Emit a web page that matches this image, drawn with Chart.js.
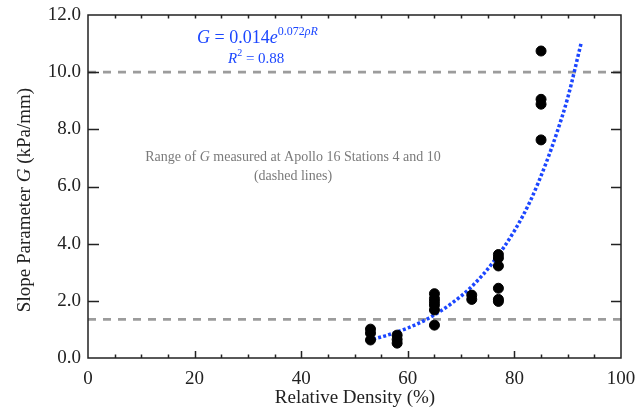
<!DOCTYPE html>
<html>
<head>
<meta charset="utf-8">
<script src="https://cdn.jsdelivr.net/npm/chart.js@4/dist/chart.umd.min.js"></script>
<style>
  html, body { margin: 0; padding: 0; background: #fff; }
  #wrap { width: 637px; height: 407px; }
</style>
</head>
<body>
<div id="wrap"><canvas id="slope_chart" width="637" height="407"></canvas></div>
<script>
// measured points (relative density %, slope parameter G kPa/mm)
var densityPts = [53, 53, 53, 58, 58, 58, 65, 65, 65, 65, 65, 65, 72, 72, 77, 77, 77, 77, 77, 77, 85, 85, 85, 85];
var slopePts = [1.01, 0.87, 0.63, 0.80, 0.65, 0.52, 2.25, 2.08, 1.97, 1.85, 1.68, 1.15, 2.20, 2.05, 3.62, 3.50, 3.22, 2.44, 2.05, 1.98, 10.74, 9.05, 8.88, 7.63];
// exponential fit curve
var fitDensity = [53.5, 56, 60, 64, 68, 72, 76, 80, 83, 86, 88, 90, 92.5];
var fitSlope = [0.66, 0.79, 1.05, 1.40, 1.88, 2.50, 3.35, 4.45, 5.50, 6.85, 7.90, 9.10, 11.00];
// Apollo 16 range (dashed lines)
var rangeLevels = [1.35, 10.0];
var xRange = [0, 100];
var yRange = [0, 12];

var serif = "'Liberation Serif', 'Times New Roman', serif";
var ctx = 'slope_chart';

function pairs(xs, ys) {
    var out = [];
    for (var i = 0; i < xs.length; i++) {
        out.push({x: xs[i], y: ys[i]});
    }
    return out;
}

var datasets = [];
for (var i = 0; i < rangeLevels.length; i++) {
    datasets.push({
        data: [{x: xRange[0], y: rangeLevels[i]}, {x: xRange[1], y: rangeLevels[i]}],
        showLine: true,
        borderColor: '#9c9c9c',
        borderWidth: 2.6,
        borderDash: [8, 7],
        pointRadius: 0,
        order: 3
    });
}
datasets.push({
    data: pairs(fitDensity, fitSlope),
    showLine: true,
    borderColor: '#1b46ff',
    borderWidth: 3.5,
    borderDash: [3, 2.2],
    cubicInterpolationMode: 'monotone',
    pointRadius: 0,
    order: 2
});
datasets.push({
    data: pairs(densityPts, slopePts),
    backgroundColor: '#000',
    borderColor: '#000',
    pointRadius: 5,
    order: 1
});

// inner tick marks, frame, labels and titles
var decorations = {
    id: 'decorations',
    afterDraw: function (chart) {
        var c = chart.ctx;
        var a = chart.chartArea;
        var xs = chart.scales.x;
        var ys = chart.scales.y;
        c.save();
        c.strokeStyle = '#222';
        c.lineWidth = 1.5;
        c.strokeRect(a.left, a.top, a.right - a.left, a.bottom - a.top);
        c.beginPath();
        for (var v = 5; v < 100; v += 5) {
            var px = Math.round(xs.getPixelForValue(v)) + 0.5;
            var len = (v % 20 === 0) ? 7 : 3.5;
            c.moveTo(px, a.bottom);
            c.lineTo(px, a.bottom - len);
            c.moveTo(px, a.top);
            c.lineTo(px, a.top + 3.5);
        }
        for (var g = 2; g < 12; g += 2) {
            var py = Math.round(ys.getPixelForValue(g)) + 0.5;
            c.moveTo(a.left, py);
            c.lineTo(a.left + 11, py);
            c.moveTo(a.right, py);
            c.lineTo(a.right - 10, py);
        }
        c.stroke();

        // equation
        c.fillStyle = '#1b46ff';
        c.textBaseline = 'alphabetic';
        c.textAlign = 'left';
        var x0 = 197, y0 = 43;
        var parts = [
            ['italic 18px ' + serif, 'G', 0],
            ['18px ' + serif, ' = 0.014', 0],
            ['italic 18px ' + serif, 'e', 0],
            ['12px ' + serif, '0.072', -8],
            ['italic 12px ' + serif, '\u03c1R', -8]
        ];
        parts.forEach(function (p) {
            c.font = p[0];
            c.fillText(p[1], x0, y0 + p[2]);
            x0 += c.measureText(p[1]).width;
        });
        x0 = 228; y0 = 63;
        parts = [
            ['italic 15px ' + serif, 'R', 0],
            ['10px ' + serif, '2', -7],
            ['15px ' + serif, ' = 0.88', 0]
        ];
        parts.forEach(function (p) {
            c.font = p[0];
            c.fillText(p[1], x0, y0 + p[2]);
            x0 += c.measureText(p[1]).width;
        });

        // range note
        c.fillStyle = '#7a7a7a';
        var note = [
            ['14px ' + serif, 'Range of '],
            ['italic 14px ' + serif, 'G'],
            ['14px ' + serif, ' measured at Apollo 16 Stations 4 and 10']
        ];
        var w = 0;
        note.forEach(function (p) { c.font = p[0]; w += c.measureText(p[1]).width; });
        x0 = 293 - w / 2;
        note.forEach(function (p) {
            c.font = p[0];
            c.fillText(p[1], x0, 161);
            x0 += c.measureText(p[1]).width;
        });
        c.textAlign = 'center';
        c.font = '14px ' + serif;
        c.fillText('(dashed lines)', 293, 180);

        // axis titles
        c.fillStyle = '#222';
        c.font = '19px ' + serif;
        c.fillText('Relative Density (%)', 355, 403);

        var yt = [
            ['19px ' + serif, 'Slope Parameter '],
            ['italic 19px ' + serif, 'G'],
            ['19px ' + serif, ' (kPa/mm)']
        ];
        w = 0;
        yt.forEach(function (p) { c.font = p[0]; w += c.measureText(p[1]).width; });
        c.translate(30, 200);
        c.rotate(-Math.PI / 2);
        c.textAlign = 'left';
        x0 = -w / 2;
        yt.forEach(function (p) {
            c.font = p[0];
            c.fillText(p[1], x0, 0);
            x0 += c.measureText(p[1]).width;
        });
        c.restore();
    }
};

var chart = new Chart(ctx, {
    type: 'scatter',
    data: {datasets: datasets},
    plugins: [decorations],
    options: {
        responsive: false,
        animation: false,
        devicePixelRatio: 1,
        layout: {padding: {top: 15, right: 16, left: 0, bottom: 0}},
        plugins: {
            legend: {display: false},
            tooltip: {enabled: false}
        },
        scales: {
            x: {
                type: 'linear',
                min: xRange[0],
                max: xRange[1],
                afterFit: function (scale) {
                    scale.height = 49;
                    scale.paddingLeft = 0;
                    scale.paddingRight = 0;
                },
                border: {display: false},
                grid: {display: false, drawTicks: false},
                ticks: {
                    stepSize: 20,
                    padding: 10,
                    maxRotation: 0,
                    color: '#222',
                    font: {family: serif, size: 19}
                }
            },
            y: {
                type: 'linear',
                min: yRange[0],
                max: yRange[1],
                afterFit: function (scale) {
                    scale.width = 88;
                    scale.paddingTop = 0;
                    scale.paddingBottom = 0;
                },
                border: {display: false},
                grid: {display: false, drawTicks: false},
                ticks: {
                    stepSize: 2,
                    padding: 7,
                    color: '#222',
                    font: {family: serif, size: 19},
                    callback: function (v) { return v.toFixed(1); }
                }
            }
        }
    }
});
</script>
</body>
</html>
